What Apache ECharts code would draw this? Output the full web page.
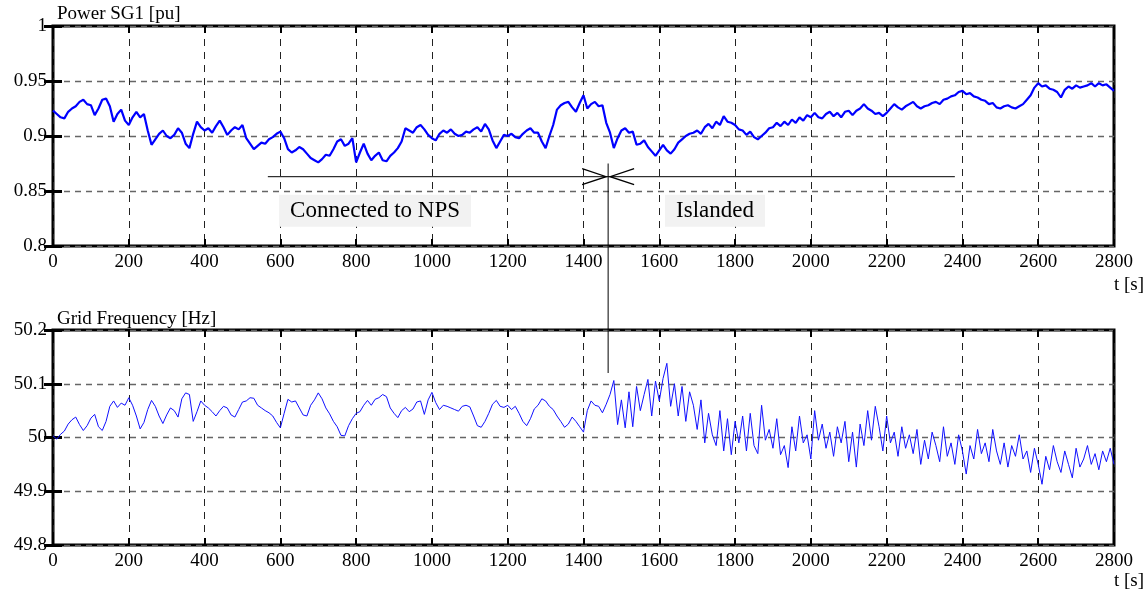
<!DOCTYPE html>
<html>
<head>
<meta charset="utf-8">
<title>Power SG1 and Grid Frequency</title>
<script src="https://cdn.jsdelivr.net/npm/echarts@6/dist/echarts.min.js"></script>
<style>
  html, body { margin: 0; padding: 0; background: #fff; }
  #chart { width: 1146px; height: 593px; }
</style>
</head>
<body>
<div id="chart"></div>
<script>
// Sampling interval of both recordings, in seconds
const SAMPLE_STEP = 10;

// Active power of generator SG1 [pu], one value every 10 s from 0 to 2800 s
const powerSG1 = [
  0.923, 0.920, 0.917, 0.916, 0.922, 0.925, 0.927, 0.931, 0.933, 0.929,
  0.928, 0.919, 0.925, 0.933, 0.934, 0.927, 0.913, 0.920, 0.924, 0.914,
  0.910, 0.917, 0.922, 0.917, 0.920, 0.905, 0.892, 0.897, 0.902, 0.905,
  0.900, 0.898, 0.901, 0.907, 0.903, 0.893, 0.889, 0.902, 0.913, 0.908,
  0.905, 0.907, 0.903, 0.909, 0.914, 0.908, 0.901, 0.905, 0.908, 0.906,
  0.910, 0.898, 0.893, 0.888, 0.891, 0.894, 0.893, 0.897, 0.899, 0.902,
  0.904, 0.898, 0.888, 0.885, 0.887, 0.890, 0.888, 0.884, 0.880, 0.878,
  0.876, 0.879, 0.883, 0.882, 0.888, 0.895, 0.897, 0.891, 0.893, 0.898,
  0.876, 0.885, 0.893, 0.884, 0.878, 0.882, 0.885, 0.878, 0.877, 0.882,
  0.885, 0.889, 0.895, 0.907, 0.905, 0.903, 0.908, 0.910, 0.906, 0.901,
  0.898, 0.896, 0.902, 0.905, 0.903, 0.906, 0.902, 0.900, 0.901, 0.904,
  0.903, 0.906, 0.908, 0.904, 0.911, 0.906, 0.896, 0.889, 0.895, 0.901,
  0.900, 0.902, 0.899, 0.898, 0.902, 0.905, 0.907, 0.903, 0.903, 0.895,
  0.889, 0.900, 0.910, 0.924, 0.928, 0.930, 0.931, 0.926, 0.922, 0.930,
  0.937, 0.925, 0.929, 0.931, 0.927, 0.928, 0.912, 0.903, 0.889, 0.898,
  0.905, 0.907, 0.903, 0.904, 0.892, 0.893, 0.896, 0.890, 0.886, 0.882,
  0.887, 0.892, 0.887, 0.884, 0.888, 0.894, 0.897, 0.900, 0.902, 0.903,
  0.905, 0.902, 0.908, 0.911, 0.907, 0.913, 0.910, 0.918, 0.913, 0.912,
  0.910, 0.906, 0.905, 0.901, 0.904, 0.899, 0.897, 0.900, 0.903, 0.907,
  0.908, 0.912, 0.909, 0.913, 0.910, 0.915, 0.912, 0.917, 0.914, 0.919,
  0.917, 0.921, 0.917, 0.916, 0.920, 0.922, 0.918, 0.921, 0.917, 0.922,
  0.923, 0.919, 0.923, 0.925, 0.929, 0.925, 0.923, 0.920, 0.921, 0.918,
  0.921, 0.925, 0.929, 0.926, 0.924, 0.927, 0.929, 0.931, 0.927, 0.925,
  0.927, 0.928, 0.930, 0.931, 0.929, 0.933, 0.934, 0.936, 0.937, 0.940,
  0.941, 0.938, 0.939, 0.936, 0.935, 0.933, 0.932, 0.929, 0.930, 0.926,
  0.925, 0.927, 0.928, 0.926, 0.925, 0.927, 0.929, 0.933, 0.937, 0.944,
  0.948, 0.945, 0.946, 0.943, 0.942, 0.940, 0.935, 0.942, 0.945, 0.943,
  0.946, 0.944, 0.945, 0.946, 0.948, 0.945, 0.948, 0.946, 0.947, 0.944,
  0.941
];

// Grid frequency [Hz], one value every 10 s from 0 to 2800 s
const gridFreq = [
  50.003, 49.997, 50.006, 50.012, 50.025, 50.033, 50.038, 50.024, 50.013, 50.022,
  50.036, 50.043, 50.020, 50.013, 50.030, 50.058, 50.068, 50.056, 50.064, 50.060,
  50.074, 50.060, 50.040, 50.016, 50.028, 50.052, 50.069, 50.058, 50.040, 50.026,
  50.042, 50.055, 50.050, 50.038, 50.072, 50.083, 50.080, 50.030, 50.048, 50.068,
  50.060, 50.055, 50.048, 50.040, 50.050, 50.058, 50.055, 50.042, 50.038, 50.052,
  50.066, 50.068, 50.074, 50.073, 50.060, 50.055, 50.050, 50.046, 50.040, 50.028,
  50.018, 50.045, 50.071, 50.066, 50.068, 50.055, 50.042, 50.040, 50.060, 50.070,
  50.083, 50.072, 50.055, 50.044, 50.030, 50.020, 50.004, 50.003, 50.022, 50.035,
  50.045, 50.048, 50.060, 50.069, 50.060, 50.071, 50.074, 50.080, 50.076, 50.055,
  50.045, 50.037, 50.050, 50.056, 50.048, 50.053, 50.066, 50.068, 50.043, 50.070,
  50.084, 50.065, 50.052, 50.060, 50.058, 50.055, 50.052, 50.049, 50.058, 50.060,
  50.057, 50.040, 50.022, 50.019, 50.030, 50.045, 50.062, 50.069, 50.058, 50.056,
  50.060, 50.052, 50.058, 50.045, 50.030, 50.022, 50.035, 50.053, 50.060, 50.072,
  50.068, 50.058, 50.052, 50.040, 50.030, 50.019, 50.025, 50.038, 50.030, 50.020,
  50.010, 50.050, 50.068, 50.060, 50.058, 50.046, 50.062, 50.080, 50.106, 50.024,
  50.070, 50.018, 50.085, 50.020, 50.095, 50.050, 50.080, 50.108, 50.040, 50.105,
  50.068, 50.110, 50.138, 50.058, 50.100, 50.040, 50.095, 50.030, 50.085, 50.060,
  50.015, 50.070, 49.990, 50.045, 50.005, 49.985, 50.050, 49.975, 50.035, 49.968,
  50.030, 49.990, 50.040, 49.975, 50.045, 49.985, 49.970, 50.060, 49.995, 50.015,
  49.980, 50.035, 49.968, 49.985, 49.944, 50.020, 49.975, 50.040, 49.990, 50.005,
  49.960, 50.050, 49.995, 50.025, 49.980, 50.010, 49.965, 50.020, 49.990, 50.030,
  49.955, 50.010, 49.945, 50.025, 49.985, 50.050, 49.995, 50.058, 50.020, 49.975,
  50.040, 49.990, 50.010, 49.965, 50.020, 49.980, 50.005, 49.970, 50.015, 49.950,
  49.995, 49.960, 50.010, 49.985, 49.955, 50.020, 49.965, 49.990, 49.950, 50.005,
  49.975, 49.932, 49.985, 49.960, 50.015, 49.970, 49.990, 49.955, 50.015, 49.975,
  49.950, 49.990, 49.945, 49.985, 49.965, 50.005, 49.960, 49.975, 49.935, 49.980,
  49.950, 49.913, 49.965, 49.940, 49.985, 49.955, 49.935, 49.975, 49.950, 49.925,
  49.980, 49.945, 49.960, 49.985, 49.950, 49.970, 49.940, 49.975, 49.955, 49.980,
  49.950
];

// Annotation of the operating phases
const phaseLabels = ['Connected to NPS', 'Islanded'];
const phaseLabelTimes = [850, 1747];   // label centres [s]
const phaseLabelLevel = 0.832;          // label centres [pu]
const islandingTime = 1465;             // instant of islanding [s]
const phaseArrowSpan = [567, 2380];     // extent of the phase arrow [s]
const phaseArrowLevel = 0.863;          // height of the phase arrow [pu]
const markerTop = 0.875;                // top of the islanding marker [pu]
const markerBottom = 50.12;             // bottom of the islanding marker [Hz]

const times = powerSG1.map((_, i) => i * SAMPLE_STEP);
const powerData = powerSG1.map((v, i) => [times[i], v]);
const freqData = gridFreq.map((v, i) => [i * SAMPLE_STEP, v]);

const FONT = '"Liberation Serif", "Times New Roman", serif';
const tickFont = { fontFamily: FONT, fontSize: 19, color: '#000' };
const plainNumber = (v) => String(+v.toFixed(3));

const GRID_LEFT = 53, GRID_W = 1061;

function xAxes(gridIndex) {
  const common = {
    type: 'value', gridIndex, min: 0, max: 2800, interval: 200,
    axisLine: { show: false },
    axisTick: { show: true, inside: true, length: 7, lineStyle: { color: '#000', width: 2 } }
  };
  return [
    Object.assign({}, common, {
      position: 'bottom',
      axisLabel: Object.assign({ margin: 7, formatter: plainNumber }, tickFont),
      splitLine: { show: true, lineStyle: { color: '#222', width: 1, type: [7, 6] } }
    }),
    Object.assign({}, common, {
      position: 'top',
      axisLabel: { show: false },
      splitLine: { show: false }
    })
  ];
}

function yAxes(gridIndex, min, max, interval) {
  const common = {
    type: 'value', gridIndex, min, max, interval,
    axisLine: { show: false },
    axisTick: { show: true, inside: true, length: 9, lineStyle: { color: '#000', width: 3 } }
  };
  return [
    Object.assign({}, common, {
      position: 'left',
      axisLabel: Object.assign({ margin: 6, formatter: plainNumber }, tickFont),
      splitLine: { show: true, lineStyle: { color: '#666', width: 1.3, type: [6, 5] } }
    }),
    Object.assign({}, common, {
      position: 'right',
      axisLabel: { show: false },
      splitLine: { show: false }
    })
  ];
}

const chart = echarts.init(document.getElementById('chart'), null, { renderer: 'canvas' });

const option = {
  animation: false,
  backgroundColor: '#fff',
  title: [
    { text: 'Power SG1 [pu]', left: 52, top: 0,
      textStyle: { fontFamily: FONT, fontSize: 19, fontWeight: 'normal', color: '#000' } },
    { text: 'Grid Frequency [Hz]', left: 52, top: 305,
      textStyle: { fontFamily: FONT, fontSize: 19, fontWeight: 'normal', color: '#000' } },
    { text: 't [s]', left: 1109, top: 271,
      textStyle: { fontFamily: FONT, fontSize: 19, fontWeight: 'normal', color: '#000' } },
    { text: 't [s]', left: 1109, top: 567,
      textStyle: { fontFamily: FONT, fontSize: 19, fontWeight: 'normal', color: '#000' } }
  ],
  grid: [
    { left: GRID_LEFT, top: 26, width: GRID_W, height: 220, show: true,
      borderColor: '#000', borderWidth: 3, backgroundColor: 'transparent' },
    { left: GRID_LEFT, top: 330, width: GRID_W, height: 215, show: true,
      borderColor: '#000', borderWidth: 3, backgroundColor: 'transparent' }
  ],
  xAxis: [...xAxes(0), ...xAxes(1)],
  yAxis: [...yAxes(0, 0.8, 1, 0.05), ...yAxes(1, 49.8, 50.2, 0.1)],
  series: [
    {
      name: 'Power SG1', type: 'line', xAxisIndex: 0, yAxisIndex: 0,
      data: powerData, showSymbol: false, symbol: 'none',
      lineStyle: { color: '#0000ff', width: 2.2 }, z: 3
    },
    {
      name: 'Grid Frequency', type: 'line', xAxisIndex: 2, yAxisIndex: 2,
      data: freqData, showSymbol: false, symbol: 'none',
      lineStyle: { color: '#1010ff', width: 1 }, z: 3
    }
  ]
};

chart.setOption(option);

// Phase arrow, islanding marker and phase labels, placed in data coordinates
function drawAnnotations() {
  const px = (gridIndex, x, y) => chart.convertToPixel({ gridIndex }, [x, y]);
  const left = px(0, phaseArrowSpan[0], phaseArrowLevel);
  const right = px(0, phaseArrowSpan[1], phaseArrowLevel);
  const tip = px(0, islandingTime, phaseArrowLevel);
  const mTop = px(0, islandingTime, markerTop);
  const mBot = px(1, islandingTime, markerBottom);
  const headLen = 24, headHalf = 8, gap = 2;
  const stroke = { stroke: '#000', lineWidth: 1, fill: null };

  const elements = [
    { type: 'line', shape: { x1: left[0], y1: left[1], x2: right[0], y2: right[1] }, style: stroke, z: 10 },
    { type: 'line', shape: { x1: mTop[0], y1: mTop[1], x2: mBot[0], y2: mBot[1] }, style: stroke, z: 10 },
    { type: 'polyline', shape: { points: [
        [tip[0] - gap - headLen, tip[1] - headHalf], [tip[0] - gap, tip[1]], [tip[0] - gap - headLen, tip[1] + headHalf]
      ] }, style: Object.assign({}, stroke, { lineWidth: 1.3 }), z: 10 },
    { type: 'polyline', shape: { points: [
        [tip[0] + gap + headLen, tip[1] - headHalf], [tip[0] + gap, tip[1]], [tip[0] + gap + headLen, tip[1] + headHalf]
      ] }, style: Object.assign({}, stroke, { lineWidth: 1.3 }), z: 10 }
  ];

  phaseLabels.forEach((label, i) => {
    const c = px(0, phaseLabelTimes[i], phaseLabelLevel);
    elements.push({
      type: 'text', z: 10,
      style: {
        text: label, x: c[0], y: c[1],
        textAlign: 'center', textVerticalAlign: 'middle',
        font: '23px ' + FONT, fill: '#000',
        backgroundColor: '#f2f2f2', padding: [5, 11, 4, 11]
      }
    });
  });

  chart.setOption({ graphic: { elements } });
}

drawAnnotations();
</script>
</body>
</html>
